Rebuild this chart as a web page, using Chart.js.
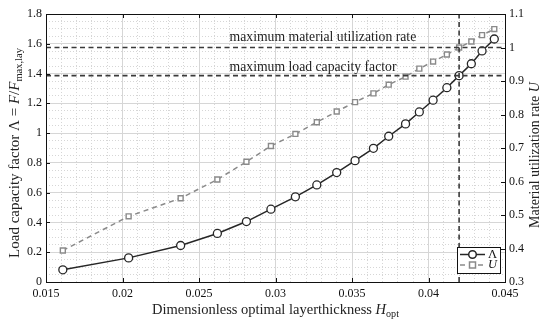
<!DOCTYPE html>
<html>
<head>
<meta charset="utf-8">
<script src="https://cdn.jsdelivr.net/npm/chart.js@4.4.1/dist/chart.umd.min.js"></script>
<style>
  html, body { margin: 0; padding: 0; background: #fff; }
</style>
</head>
<body>
<canvas id="chart" width="550" height="322"></canvas>
<script>
// values
const hOpt   = [0.0161, 0.0204, 0.0238, 0.0262, 0.0281, 0.0297, 0.0313, 0.0327, 0.0340, 0.0352,
                0.0364, 0.0374, 0.0385, 0.0394, 0.0403, 0.0412, 0.0420, 0.0428, 0.0435, 0.0443];
const lambda = [0.082, 0.162, 0.245, 0.326, 0.406, 0.489, 0.572, 0.652, 0.735, 0.815,
                0.898, 0.979, 1.062, 1.142, 1.221, 1.305, 1.386, 1.466, 1.552, 1.632];
const util   = [0.394, 0.496, 0.550, 0.606, 0.659, 0.706, 0.742, 0.777, 0.809, 0.837,
                0.863, 0.889, 0.913, 0.937, 0.958, 0.979, 1.000, 1.018, 1.037, 1.055];

// reference lines
const hRef = 0.042;
const lambdaMax = 1.386;
const utilMax = 1.0;

// tick labels
const xTicks  = [0.015, 0.02, 0.025, 0.03, 0.035, 0.04, 0.045];
const xLabels = ['0.015', '0.02', '0.025', '0.03', '0.035', '0.04', '0.045'];
const yTicks  = [0, 0.2, 0.4, 0.6, 0.8, 1, 1.2, 1.4, 1.6, 1.8];
const yLabels = ['0', '0.2', '0.4', '0.6', '0.8', '1', '1.2', '1.4', '1.6', '1.8'];
const y2Ticks  = [0.3, 0.4, 0.5, 0.6, 0.7, 0.8, 0.9, 1.0, 1.1];
const y2Labels = ['0.3', '0.4', '0.5', '0.6', '0.7', '0.8', '0.9', '1', '1.1'];

const SERIF = '"Liberation Serif", "Times New Roman", serif';
const DARK = '#262626';
const GREY = '#8a8a8a';
const REF = '#3a3a3a';

const majorIndex = (list, v) => list.findIndex(t => Math.abs(t - v) < 1e-7);

// draws a run of text pieces (plain, italic, subscript) centred on the origin
function drawRich(ctx, parts, size) {
    const fontFor = p => (p.it ? 'italic ' : '') + (p.sub ? size * 0.7 : size) + 'px ' + SERIF;
    let total = 0;
    parts.forEach(p => { ctx.font = fontFor(p); p.w = ctx.measureText(p.t).width; total += p.w; });
    let x = -total / 2;
    ctx.textBaseline = 'middle';
    ctx.textAlign = 'left';
    parts.forEach(p => {
        ctx.font = fontFor(p);
        ctx.fillText(p.t, x, p.sub ? size * 0.28 : 0);
        x += p.w;
    });
}

const framePlugin = {
    id: 'frame',
    afterDatasetsDraw(chart) {
        const { ctx, scales } = chart;
        // annotations
        ctx.save();
        ctx.fillStyle = '#222';
        ctx.font = '13.7px ' + SERIF;
        ctx.textAlign = 'left';
        ctx.textBaseline = 'middle';
        const tx = scales.x.getPixelForValue(0.027);
        ctx.fillText('maximum material utilization rate', tx, scales.y.getPixelForValue(1.643));
        ctx.fillText('maximum load capacity factor', tx, scales.y.getPixelForValue(1.444));
        ctx.restore();
    },
    afterDraw(chart) {
        const { ctx, chartArea: a, scales } = chart;
        ctx.save();
        // inward ticks
        ctx.strokeStyle = '#111';
        ctx.lineWidth = 1;
        ctx.beginPath();
        xTicks.forEach(v => {
            const px = Math.round(scales.x.getPixelForValue(v)) + 0.5;
            ctx.moveTo(px, a.bottom); ctx.lineTo(px, a.bottom - 4);
            ctx.moveTo(px, a.top); ctx.lineTo(px, a.top + 4);
        });
        yTicks.forEach(v => {
            const py = Math.round(scales.y.getPixelForValue(v)) + 0.5;
            ctx.moveTo(a.left, py); ctx.lineTo(a.left + 4, py);
        });
        y2Ticks.forEach(v => {
            const py = Math.round(scales.y2.getPixelForValue(v)) + 0.5;
            ctx.moveTo(a.right, py); ctx.lineTo(a.right - 4, py);
        });
        ctx.stroke();
        // box
        ctx.strokeStyle = '#111';
        ctx.strokeRect(Math.round(a.left) + 0.5, Math.round(a.top) + 0.5,
                       Math.round(a.right - a.left), Math.round(a.bottom - a.top));

        // legend
        const lx = a.right - 48, ly = a.bottom - 35, lw = 43, lh = 26;
        ctx.fillStyle = '#fff';
        ctx.fillRect(lx, ly, lw, lh);
        ctx.strokeRect(lx + 0.5, ly + 0.5, lw, lh);
        let r1 = ly + 7.5, r2 = ly + 18;
        ctx.strokeStyle = DARK; ctx.lineWidth = 1.5;
        ctx.beginPath(); ctx.moveTo(lx + 3, r1); ctx.lineTo(lx + 28, r1); ctx.stroke();
        ctx.beginPath(); ctx.arc(lx + 15.5, r1, 3.8, 0, Math.PI * 2);
        ctx.fillStyle = '#fff'; ctx.fill(); ctx.stroke();
        ctx.strokeStyle = GREY;
        ctx.setLineDash([5, 4]);
        ctx.beginPath(); ctx.moveTo(lx + 3, r2); ctx.lineTo(lx + 28, r2); ctx.stroke();
        ctx.setLineDash([]);
        ctx.fillStyle = '#fff';
        ctx.fillRect(lx + 12.5, r2 - 3, 6, 6);
        ctx.strokeRect(lx + 12.5, r2 - 3, 6, 6);
        ctx.fillStyle = '#111';
        ctx.font = '12.5px ' + SERIF;
        ctx.textBaseline = 'middle';
        ctx.fillText('\u039B', lx + 31, r1);
        ctx.font = 'italic 12.5px ' + SERIF;
        ctx.fillText('U', lx + 31, r2);

        // axis titles
        ctx.fillStyle = '#222';
        ctx.save();
        ctx.translate((a.left + a.right) / 2, 310);
        drawRich(ctx, [{ t: 'Dimensionless optimal layerthickness ' }, { t: 'H', it: true }, { t: 'opt', sub: true }], 14.5);
        ctx.restore();
        ctx.save();
        ctx.translate(15, 153);
        ctx.rotate(-Math.PI / 2);
        drawRich(ctx, [{ t: 'Load capacity factor \u039B = ' }, { t: 'F', it: true }, { t: '/' },
                       { t: 'F', it: true }, { t: 'max,lay', sub: true }], 15);
        ctx.restore();
        ctx.save();
        ctx.translate(535, 155);
        ctx.rotate(-Math.PI / 2);
        drawRich(ctx, [{ t: 'Material utilization rate ' }, { t: 'U', it: true }], 14);
        ctx.restore();
        ctx.restore();
    }
};

const tickFont = { family: SERIF, size: 12 };

new Chart(document.getElementById('chart'), {
    type: 'line',
    data: {
        datasets: [
            {
                label: 'U max',
                data: [{ x: 0.015, y: utilMax }, { x: 0.045, y: utilMax }],
                yAxisID: 'y2',
                borderColor: REF, borderWidth: 1.6, borderDash: [5, 3.5],
                pointRadius: 0
            },
            {
                label: 'Lambda max',
                data: [{ x: 0.015, y: lambdaMax }, { x: 0.045, y: lambdaMax }],
                yAxisID: 'y',
                borderColor: REF, borderWidth: 1.6, borderDash: [5, 3.5],
                pointRadius: 0
            },
            {
                label: 'H ref',
                data: [{ x: hRef, y: 0 }, { x: hRef, y: 1.8 }],
                yAxisID: 'y',
                borderColor: REF, borderWidth: 1.6, borderDash: [5, 3.5],
                pointRadius: 0
            },
            {
                label: '\u039B',
                data: hOpt.map((h, i) => ({ x: h, y: lambda[i] })),
                yAxisID: 'y',
                borderColor: DARK, borderWidth: 1.5,
                pointStyle: 'circle', pointRadius: 4,
                pointBorderColor: DARK, pointBorderWidth: 1.3,
                pointBackgroundColor: '#fff'
            },
            {
                label: 'U',
                data: hOpt.map((h, i) => ({ x: h, y: util[i] })),
                yAxisID: 'y2',
                borderColor: GREY, borderWidth: 1.5, borderDash: [5, 4],
                pointStyle: 'rect', pointRadius: 3.5,
                pointBorderColor: GREY, pointBorderWidth: 1.4,
                pointBackgroundColor: '#fff'
            }
        ]
    },
    options: {
        responsive: false,
        animation: false,
        devicePixelRatio: 1,
        layout: { padding: { top: 14, left: 0, right: 0, bottom: 0 } },
        plugins: { legend: { display: false }, tooltip: { enabled: false } },
        scales: {
            x: {
                type: 'linear', min: 0.015, max: 0.045,
                afterFit: s => { s.height = 40; },
                ticks: {
                    stepSize: 0.001, autoSkip: false, maxRotation: 0, padding: 5,
                    color: '#111', font: tickFont,
                    callback: v => { const i = majorIndex(xTicks, v); return i < 0 ? '' : xLabels[i]; }
                },
                grid: {
                    drawTicks: false,
                    color: c => majorIndex(xTicks, c.tick ? c.tick.value : NaN) >= 0 ? '#d6d6d6' : '#d6d6d6'
                },
                border: {
                    display: false,
                    dash: c => (c.tick && majorIndex(xTicks, c.tick.value) >= 0) ? [] : [1, 2]
                }
            },
            y: {
                type: 'linear', position: 'left', min: 0, max: 1.8,
                afterFit: s => { s.width = 46; },
                ticks: {
                    stepSize: 0.05, autoSkip: false, padding: 4,
                    color: '#111', font: tickFont,
                    callback: v => { const i = majorIndex(yTicks, v); return i < 0 ? '' : yLabels[i]; }
                },
                grid: {
                    drawTicks: false,
                    color: c => majorIndex(yTicks, c.tick ? c.tick.value : NaN) >= 0 ? '#d6d6d6' : '#d6d6d6'
                },
                border: {
                    display: false,
                    dash: c => (c.tick && majorIndex(yTicks, c.tick.value) >= 0) ? [] : [1, 2]
                }
            },
            y2: {
                type: 'linear', position: 'right', min: 0.3, max: 1.1,
                afterFit: s => { s.width = 45; },
                ticks: {
                    stepSize: 0.1, autoSkip: false, padding: 4,
                    color: '#111', font: tickFont,
                    callback: v => { const i = majorIndex(y2Ticks, v); return i < 0 ? '' : y2Labels[i]; }
                },
                grid: { drawTicks: false, drawOnChartArea: false },
                border: { display: false }
            }
        }
    },
    plugins: [framePlugin]
});
</script>
</body>
</html>
